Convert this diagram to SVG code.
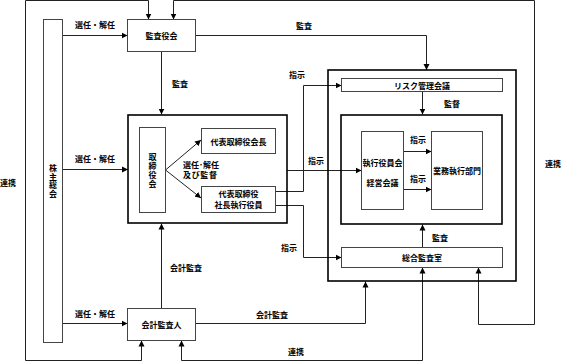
<svg xmlns="http://www.w3.org/2000/svg" width="563" height="362" viewBox="0 0 563 362">
<defs>
<marker id="ah" markerWidth="7" markerHeight="7" refX="6" refY="3.5" orient="auto" markerUnits="userSpaceOnUse">
<path d="M0,0.5 L6,3.5 L0,6.5 z" fill="#000"/>
</marker>
<style>
text{font-family:"Noto Sans CJK JP","Noto Sans",sans-serif;font-size:8px;font-weight:bold;fill:#000;text-anchor:middle;dominant-baseline:central}
.v{writing-mode:vertical-rl;text-orientation:upright;dominant-baseline:auto}
.box{fill:#fff;stroke:#444;stroke-width:1}
.thick{fill:none;stroke:#000;stroke-width:1.6}
.c{fill:none;stroke:#222;stroke-width:1}
.a{marker-end:url(#ah)}
.s{text-anchor:start}
</style>
</defs>
<rect width="563" height="362" fill="#fff"/>

<g id="connectors">
<path class="c a" d="M62.5,35.5 H127.5"/>
<path class="c a" d="M62.5,169.5 H128"/>
<path class="c a" d="M62.5,323.5 H127.5"/>
<path class="c a" d="M161.5,51.5 V114.5"/>
<path class="c a" d="M195.5,35.5 H426.5 V70"/>
<path class="c a" d="M161.5,308.5 V223.5"/>
<path class="c a" d="M195.5,323.5 H365.5 V281.5"/>
<path class="c a" d="M287,170.5 H361.5"/>
<path class="c a" d="M275.5,191.5 H303.5 V85.5 H341.5"/>
<path class="c a" d="M275.5,205.5 H303.5 V257.5 H341.5"/>
<path class="c a" d="M165.5,170 L201,140"/>
<path class="c a" d="M165.5,170 L201,198"/>
<path class="c a" d="M422.5,91.5 V114.5"/>
<path class="c a" d="M403.5,151.5 H431.5"/>
<path class="c a" d="M403.5,189.5 H431.5"/>
<path class="c a" d="M422.5,247.5 V224.5"/>
<path class="c a" d="M141.5,360.5 V340.5"/>
<path class="c a" d="M141.5,360.5 H25.5 V0.5 H148.5 V19.5"/>
<path class="c a" d="M173.5,0.5 V19.5"/>
<path class="c a" d="M173.5,0.5 H534.5 V324.5 H478.5 V267.5"/>
<path class="c a" d="M181.5,360.5 V340.5"/>
<path class="c a" d="M181.5,360.5 H422.5 V267.5"/>
</g>

<g id="labels">
<text x="95" y="24">選任・解任</text>
<text x="95" y="158">選任・解任</text>
<text x="95" y="313">選任・解任</text>
<text x="304" y="25">監査</text>
<text x="180" y="83">監査</text>
<text x="297" y="74">指示</text>
<text x="452" y="103">監督</text>
<text x="316" y="160">指示</text>
<text x="418" y="139">指示</text>
<text x="418" y="178">指示</text>
<text class="s" x="183" y="164">選任･解任</text>
<text class="s" x="183" y="174" textLength="34" lengthAdjust="spacing">及び監督</text>
<text x="289" y="247">指示</text>
<text x="440" y="237">監査</text>
<text x="186" y="267">会計監査</text>
<text x="272" y="314">会計監査</text>
<text x="296" y="351">連携</text>
<text class="s" x="0" y="182">連携</text>
<text class="s" x="545" y="163">連携</text>
</g>

<g id="kabunushi">
<rect class="box" x="43.5" y="19.5" width="19" height="323"/>
<text class="v" x="53" y="181" letter-spacing="0.5">株主総会</text>
</g>
<g id="kansayakukai">
<rect class="box" x="127.5" y="19.5" width="68" height="32"/>
<text x="161.5" y="35.5">監査役会</text>
</g>
<g id="kaikeikansanin">
<rect class="box" x="127.5" y="308.5" width="68" height="32"/>
<text x="161.5" y="324.5">会計監査人</text>
</g>
<g id="board">
<rect class="thick" x="128" y="115" width="159" height="108"/>
</g>
<g id="torishimariyakukai">
<rect class="box" x="139.5" y="127.5" width="26" height="85"/>
<text class="v" x="152.5" y="171" letter-spacing="1">取締役会</text>
</g>
<g id="kaicho">
<rect class="box" x="201.5" y="128.5" width="74" height="25"/>
<text x="238.5" y="141">代表取締役会長</text>
</g>
<g id="shacho">
<rect class="box" x="201.5" y="186.5" width="74" height="26"/>
<text x="238.5" y="193">代表取締役</text>
<text x="238.5" y="204">社長執行役員</text>
</g>
<g id="executive">
<rect class="thick" x="328" y="70" width="188" height="211"/>
</g>
<g id="risk">
<rect class="box" x="341.5" y="78.5" width="161" height="13"/>
<text x="422" y="85">リスク管理会議</text>
</g>
<g id="inner">
<rect class="thick" x="341" y="115" width="161" height="109"/>
</g>
<g id="shikkoyakuinkai">
<rect class="box" x="361.5" y="131.5" width="42" height="78"/>
<text x="382.5" y="162">執行役員会</text>
<text x="382.5" y="182">経営会議</text>
</g>
<g id="gyomu">
<rect class="box" x="431.5" y="131.5" width="51" height="78"/>
<text x="457" y="170.5">業務執行部門</text>
</g>
<g id="sogokansa">
<rect class="box" x="341.5" y="247.5" width="161" height="20"/>
<text x="422" y="257.5">総合監査室</text>
</g>
</svg>
